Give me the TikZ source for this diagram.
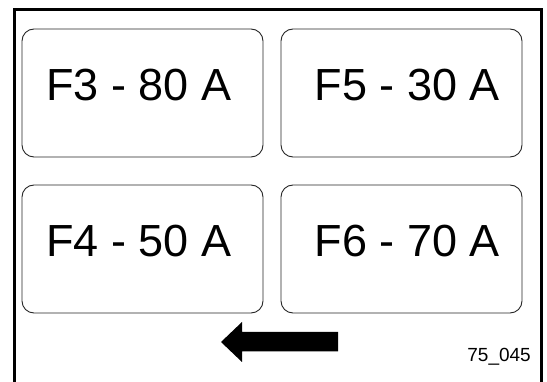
\documentclass[tikz,border=0pt]{standalone}
\usepackage{fontspec}
\setmainfont{Liberation Sans}
\usepackage{tikz}
\tikzset{
  fuse/.style={draw=black!85,line width=0.9pt,rounded corners=12pt,minimum width=241pt,minimum height=128pt,inner sep=0pt,text depth=16pt,font=\fontsize{45}{50}\selectfont},
  frm/.style={line width=3pt},
  tag/.style={font=\fontsize{19}{22}\selectfont,inner sep=0pt}
}

\begin{document}
\begin{tikzpicture}[x=1pt,y=-1pt]
\useasboundingbox (0,0) rectangle (547,382);
\draw[frm] (14.5,383) -- (14.5,9.5) -- (541,9.5) -- (541,383);
\node[fuse] (f3) at (142.5,93) {F3 - 80 A\hspace*{7pt}};
\node[fuse] (f5) at (401.5,93) {\hspace*{12pt}F5 - 30 A};
\node[fuse] (f4) at (142.5,249) {F4 - 50 A\hspace*{7pt}};
\node[fuse] (f6) at (401.5,249) {\hspace*{12pt}F6 - 70 A};
\fill (221,342) -- (242,322) -- (242,332) -- (338,332) -- (338,351.5) -- (242,351.5) -- (242,362) -- cycle;
\node[tag,anchor=base east] (ref) at (531,362) {75\_045};
\end{tikzpicture}
\end{document}
